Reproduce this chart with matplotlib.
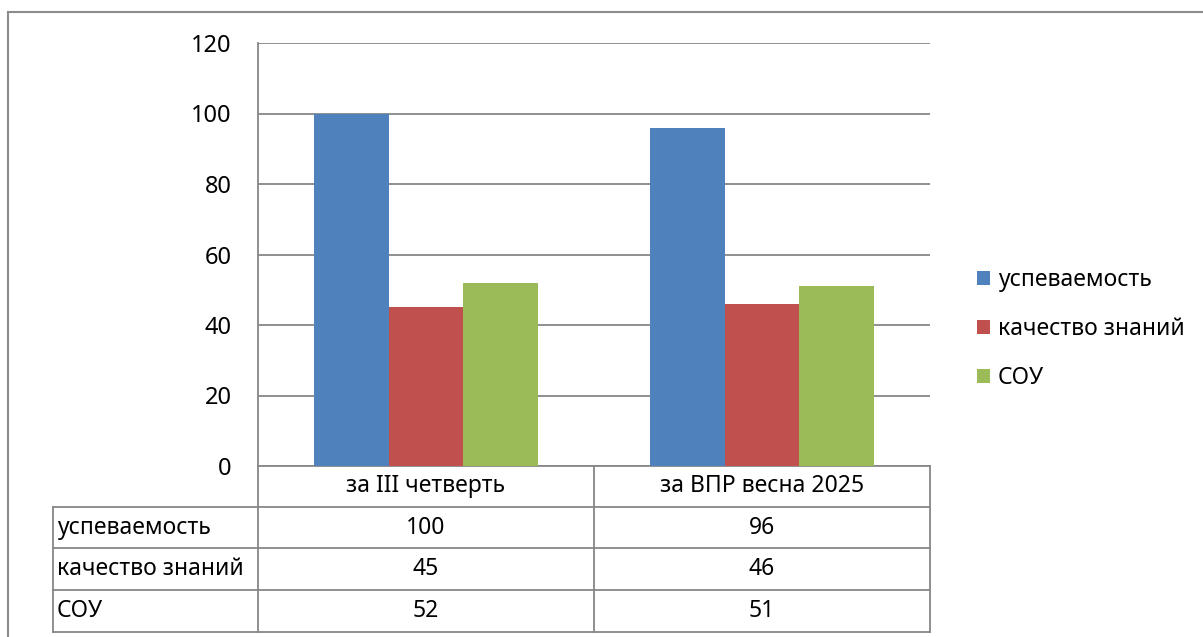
import matplotlib.pyplot as plt
import matplotlib.transforms as mtransforms
import numpy as np

plt.rcParams['font.family'] = ['Noto Sans', 'DejaVu Sans']

periods = ["за III четверть", "за ВПР весна 2025"]
series = ["успеваемость", "качество знаний", "СОУ"]
uspevaemost = [100, 96]
kachestvo = [45, 46]
sou = [52, 51]
values = [uspevaemost, kachestvo, sou]
colors = ["#4F81BD", "#C0504D", "#9BBB59"]
yticks = [0, 20, 40, 60, 80, 100, 120]

W, H = 1203, 637
fig = plt.figure(figsize=(W / 100, H / 100), dpi=100)
grid_c = "#878787"
fs = 16.5


def fy(py):
    return 1 - py / H


# outer frame of the chart area
fig.add_artist(plt.Line2D([8 / W, 8 / W], [fy(12), 0], color="#8c8c8c", lw=1.5))
fig.add_artist(plt.Line2D([8 / W, 1], [fy(12), fy(12)], color="#8c8c8c", lw=1.5))

ax = fig.add_axes([258 / W, fy(466), 672 / W, 423 / H])
x = np.arange(len(periods))
bw = 0.223
handles = []
for i, (name, vals) in enumerate(zip(series, values)):
    b = ax.bar(x + (i - 1) * bw, vals, bw, color=colors[i], label=name, zorder=3)
    handles.append(b)

ax.set_xlim(-0.5, 1.5)
ax.set_ylim(0, 120)
ax.set_yticks(yticks)
ax.set_xticks([])
ax.yaxis.grid(True, color=grid_c, lw=1.3, zorder=0)
for s in ["top", "right", "bottom"]:
    ax.spines[s].set_visible(False)
ax.spines["left"].set_color(grid_c)
ax.spines["left"].set_linewidth(1.3)
ax.tick_params(axis="y", length=0, pad=19, labelsize=fs + 0.5)

# data table under the axes
tr = mtransforms.blended_transform_factory(ax.transData, fig.transFigure)
row_y = [466, 507, 548, 590, 632]
col_x = [-0.5, 0.5, 1.5]
lkw = dict(color=grid_c, lw=1.3, transform=tr, clip_on=False)
lab_left = -0.5 - (258 - 53) / 336

for cx in col_x:
    ax.plot([cx, cx], [fy(row_y[0]), fy(row_y[-1])], **lkw)
ax.plot([lab_left, lab_left], [fy(row_y[1]), fy(row_y[-1])], **lkw)
ax.plot([-0.5, 1.5], [fy(row_y[0]), fy(row_y[0])], **lkw)
for ry in row_y[1:]:
    ax.plot([lab_left, 1.5], [fy(ry), fy(ry)], **lkw)

for j, p in enumerate(periods):
    ax.text(x[j], fy((row_y[0] + row_y[1]) / 2), p, ha="center", va="center",
            fontsize=fs, transform=tr)
for i, (name, vals) in enumerate(zip(series, values)):
    yc = fy((row_y[i + 1] + row_y[i + 2]) / 2)
    ax.text(lab_left + 4 / 336, yc, name, ha="left", va="center", fontsize=fs, transform=tr)
    for j, v in enumerate(vals):
        ax.text(x[j], yc, str(v), ha="center", va="center", fontsize=fs, transform=tr)

fig.legend(handles=handles, loc="center left", bbox_to_anchor=(968 / W, fy(329)),
           frameon=False, fontsize=fs, handlelength=0.55, handleheight=0.55,
           handletextpad=0.35, labelspacing=1.1, borderaxespad=0)

fig.savefig("out.png", dpi=100)
